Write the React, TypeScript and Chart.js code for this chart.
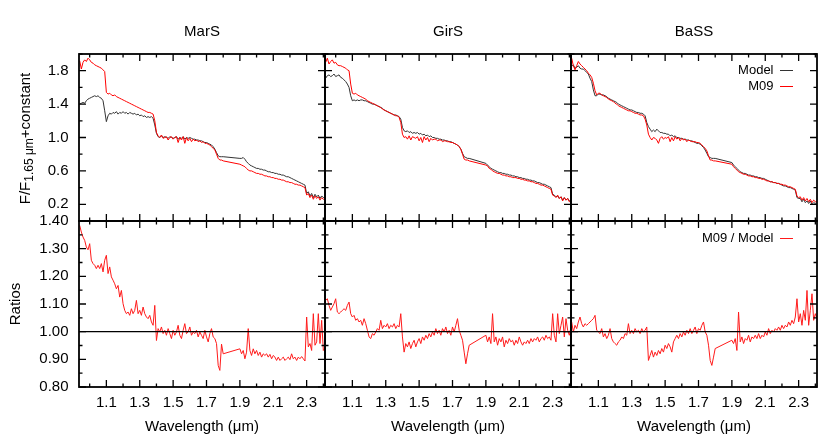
import React, { useEffect, useRef } from "react";
import { Chart, registerables } from "chart.js";

Chart.register(...registerables);

// ---------------- data ----------------
const WAVELENGTH = [
  0.94, 0.95, 0.96, 0.97, 0.98, 0.99,
  1.0, 1.01, 1.02, 1.03, 1.04, 1.05, 1.06, 1.07, 1.08, 1.09,
  1.1, 1.11, 1.12, 1.13, 1.14, 1.15, 1.16, 1.17, 1.18, 1.19,
  1.2, 1.21, 1.22, 1.23, 1.24, 1.25, 1.26, 1.27, 1.28, 1.29,
  1.3, 1.31, 1.32, 1.33, 1.34, 1.35, 1.36, 1.37, 1.38, 1.39,
  1.4, 1.41, 1.42, 1.43, 1.44, 1.45, 1.46, 1.47, 1.48, 1.49,
  1.5, 1.51, 1.52, 1.53, 1.54, 1.55, 1.56, 1.57, 1.58, 1.59,
  1.6, 1.61, 1.62, 1.63, 1.64, 1.65, 1.66, 1.67, 1.68, 1.69,
  1.7, 1.71, 1.72, 1.73, 1.74, 1.75, 1.76, 1.77, 1.78, 1.79,
  1.8,
  1.9, 1.91, 1.92, 1.93, 1.94, 1.95, 1.96, 1.97, 1.98, 1.99,
  2.0, 2.01, 2.02, 2.03, 2.04, 2.05, 2.06, 2.07, 2.08, 2.09,
  2.1, 2.11, 2.12, 2.13, 2.14, 2.15, 2.16, 2.17, 2.18, 2.19,
  2.2, 2.21, 2.22, 2.23, 2.24, 2.25, 2.26, 2.27, 2.28, 2.29,
  2.3, 2.31, 2.32, 2.33, 2.34, 2.35, 2.36, 2.37, 2.38, 2.39,
  2.4, 2.41,
];

const MARS_MODEL = [
  1.40, 1.41, 1.42, 1.41, 1.44, 1.46,
  1.47, 1.48, 1.49, 1.50, 1.49, 1.50, 1.48, 1.47, 1.44, 1.32,
  1.19, 1.26, 1.29, 1.28, 1.30, 1.29, 1.31, 1.28, 1.30, 1.29,
  1.31, 1.29, 1.30, 1.28, 1.30, 1.29, 1.28, 1.29, 1.27, 1.28,
  1.26, 1.27, 1.25, 1.26, 1.24, 1.25, 1.24, 1.25, 1.23, 1.15,
  1.05, 1.01, 1.00, 1.02, 1.00, 1.01, 1.00, 0.99, 1.01, 1.00,
  0.99, 1.00, 1.01, 0.98, 1.00, 0.99, 1.01, 0.98, 1.00, 0.99,
  1.00, 0.99, 0.98, 0.98, 0.97, 0.97, 0.96, 0.96, 0.95, 0.94,
  0.94, 0.93, 0.92, 0.91, 0.89, 0.86, 0.82, 0.78, 0.77, 0.77,
  0.77,
  0.75, 0.75, 0.76, 0.74, 0.71, 0.69, 0.67, 0.66, 0.65, 0.64,
  0.63, 0.63, 0.62, 0.62, 0.61, 0.61, 0.60, 0.59, 0.59, 0.58,
  0.58, 0.57, 0.57, 0.56, 0.56, 0.55, 0.55, 0.54, 0.53, 0.53,
  0.52, 0.51, 0.50, 0.49, 0.48, 0.47, 0.46, 0.45, 0.44, 0.43,
  0.33, 0.35, 0.30, 0.33, 0.28, 0.32, 0.29, 0.31, 0.27, 0.30,
  0.28, 0.29,
];

const MARS_M09 = [
  1.92, 1.82, 1.90, 1.93, 1.91, 1.95,
  1.93, 1.90, 1.89, 1.87, 1.86, 1.85, 1.84, 1.83, 1.81, 1.79,
  1.54, 1.52, 1.53, 1.51, 1.50, 1.51, 1.49, 1.48, 1.47, 1.46,
  1.45, 1.44, 1.43, 1.42, 1.41, 1.40, 1.39, 1.38, 1.37, 1.36,
  1.35, 1.34, 1.33, 1.32, 1.31, 1.30, 1.30, 1.29, 1.28, 1.20,
  1.06, 1.02, 1.00, 1.03, 0.99, 1.00, 1.01, 0.97, 1.00, 1.01,
  0.98, 1.00, 1.01, 0.94, 1.00, 0.97, 1.01, 0.93, 1.00, 0.96,
  0.99, 0.95, 0.98, 0.96, 0.97, 0.95, 0.96, 0.94, 0.95, 0.93,
  0.93, 0.92, 0.91, 0.89, 0.87, 0.85, 0.80, 0.75, 0.73, 0.73,
  0.72,
  0.68, 0.67, 0.66, 0.65, 0.63, 0.61, 0.60, 0.60, 0.59, 0.58,
  0.57, 0.57, 0.56, 0.56, 0.55, 0.54, 0.54, 0.53, 0.53, 0.52,
  0.52, 0.51, 0.51, 0.50, 0.50, 0.49, 0.49, 0.48, 0.47, 0.47,
  0.46, 0.46, 0.45, 0.44, 0.44, 0.43, 0.43, 0.42, 0.41, 0.40,
  0.31, 0.33, 0.28, 0.31, 0.26, 0.30, 0.27, 0.29, 0.25, 0.28,
  0.26, 0.27,
];

const GIRS_MODEL = [
  1.71, 1.74, 1.75, 1.73, 1.74, 1.76,
  1.73, 1.74, 1.75, 1.72, 1.71, 1.69, 1.67, 1.64, 1.60, 1.50,
  1.44, 1.45, 1.44, 1.45, 1.44, 1.45, 1.45, 1.44, 1.44, 1.43,
  1.42, 1.41, 1.40, 1.40, 1.39, 1.38, 1.37, 1.36, 1.35, 1.33,
  1.32, 1.31, 1.30, 1.29, 1.28, 1.27, 1.27, 1.26, 1.25, 1.22,
  1.12, 1.08, 1.07, 1.08, 1.06, 1.07, 1.05, 1.06, 1.05, 1.06,
  1.04, 1.05, 1.03, 1.04, 1.02, 1.03, 1.01, 1.02, 1.00, 1.00,
  0.99, 0.99, 0.98, 0.98, 0.97, 0.97, 0.96, 0.96, 0.95, 0.95,
  0.94, 0.93, 0.92, 0.91, 0.89, 0.86, 0.81, 0.77, 0.76, 0.75,
  0.75,
  0.69, 0.67, 0.65, 0.63, 0.62, 0.61, 0.60, 0.59, 0.58, 0.58,
  0.57, 0.57, 0.56, 0.56, 0.55, 0.55, 0.54, 0.54, 0.53, 0.53,
  0.52, 0.52, 0.51, 0.51, 0.50, 0.50, 0.49, 0.49, 0.48, 0.48,
  0.47, 0.46, 0.46, 0.45, 0.44, 0.44, 0.43, 0.42, 0.41, 0.40,
  0.32, 0.31, 0.29, 0.30, 0.27, 0.29, 0.25, 0.28, 0.25, 0.27,
  0.24, 0.25,
];

const GIRS_M09 = [
  1.90, 1.95, 1.88, 1.91, 1.93, 1.89,
  1.90, 1.87, 1.86, 1.86, 1.85, 1.84, 1.83, 1.81, 1.80, 1.64,
  1.53, 1.52, 1.53, 1.51, 1.50, 1.49, 1.48, 1.47, 1.46, 1.44,
  1.43, 1.42, 1.41, 1.40, 1.39, 1.38, 1.37, 1.36, 1.34, 1.33,
  1.32, 1.31, 1.30, 1.29, 1.28, 1.27, 1.26, 1.26, 1.24, 1.18,
  1.04, 1.00, 1.01, 0.98, 1.02, 0.97, 1.01, 1.00, 0.99, 1.01,
  0.96, 1.00, 0.94, 1.01, 0.97, 1.00, 0.95, 0.99, 0.97, 0.98,
  0.98, 0.96, 0.97, 0.97, 0.95, 0.96, 0.96, 0.95, 0.95, 0.94,
  0.94, 0.93, 0.92, 0.91, 0.89, 0.86, 0.80, 0.74, 0.73, 0.73,
  0.72,
  0.67, 0.66, 0.63, 0.62, 0.60, 0.59, 0.58, 0.57, 0.57, 0.56,
  0.55, 0.55, 0.54, 0.54, 0.53, 0.53, 0.52, 0.52, 0.52, 0.51,
  0.51, 0.50, 0.50, 0.49, 0.49, 0.48, 0.48, 0.47, 0.47, 0.46,
  0.45, 0.45, 0.44, 0.43, 0.43, 0.42, 0.41, 0.40, 0.39, 0.38,
  0.31, 0.30, 0.28, 0.31, 0.27, 0.29, 0.24, 0.28, 0.25, 0.27,
  0.23, 0.25,
];

const BASS_MODEL = [
  1.85, 1.87, 1.83, 1.84, 1.86, 1.83,
  1.82, 1.82, 1.80, 1.78, 1.76, 1.71, 1.67, 1.57, 1.50, 1.50,
  1.52, 1.52, 1.51, 1.51, 1.50, 1.49, 1.47, 1.46, 1.45, 1.44,
  1.43, 1.42, 1.40, 1.39, 1.38, 1.37, 1.36, 1.35, 1.34, 1.33,
  1.33, 1.32, 1.31, 1.30, 1.30, 1.29, 1.29, 1.28, 1.26, 1.18,
  1.13, 1.10, 1.07, 1.09, 1.07, 1.10, 1.08, 1.06, 1.06, 1.05,
  1.05, 1.04, 1.04, 1.02, 1.03, 1.01, 1.02, 1.00, 1.00, 0.99,
  0.99, 0.98, 0.98, 0.97, 0.97, 0.96, 0.96, 0.95, 0.94, 0.93,
  0.93, 0.92, 0.90, 0.88, 0.85, 0.81, 0.77, 0.76, 0.75, 0.75,
  0.75,
  0.70, 0.67, 0.65, 0.63, 0.61, 0.59, 0.58, 0.57, 0.57, 0.56,
  0.55, 0.55, 0.54, 0.54, 0.53, 0.53, 0.52, 0.52, 0.51, 0.51,
  0.50, 0.49, 0.48, 0.47, 0.47, 0.46, 0.46, 0.45, 0.45, 0.44,
  0.43, 0.42, 0.42, 0.41, 0.40, 0.40, 0.39, 0.38, 0.37, 0.28,
  0.27, 0.27, 0.23, 0.26, 0.22, 0.24, 0.21, 0.24, 0.20, 0.22,
  0.21, 0.22,
];

const BASS_M09 = [
  1.95, 1.86, 1.81, 1.86, 1.91, 1.88,
  1.86, 1.84, 1.82, 1.80, 1.77, 1.75, 1.72, 1.65, 1.56, 1.51,
  1.53, 1.53, 1.51, 1.50, 1.49, 1.48, 1.46, 1.45, 1.44, 1.43,
  1.41, 1.40, 1.38, 1.37, 1.36, 1.35, 1.34, 1.33, 1.32, 1.32,
  1.31, 1.30, 1.29, 1.29, 1.28, 1.27, 1.27, 1.26, 1.22, 1.15,
  1.04, 1.00, 0.97, 1.00, 0.99, 0.97, 0.93, 0.99, 1.01, 0.98,
  1.00, 0.99, 1.01, 0.95, 1.00, 0.96, 1.01, 0.98, 1.00, 0.96,
  0.99, 0.97, 0.98, 0.95, 0.97, 0.96, 0.95, 0.95, 0.95, 0.94,
  0.94, 0.93, 0.91, 0.89, 0.87, 0.84, 0.78, 0.73, 0.73, 0.72,
  0.72,
  0.68, 0.65, 0.63, 0.61, 0.59, 0.58, 0.57, 0.56, 0.56, 0.55,
  0.54, 0.54, 0.53, 0.53, 0.52, 0.52, 0.51, 0.51, 0.50, 0.50,
  0.49, 0.48, 0.48, 0.47, 0.47, 0.46, 0.46, 0.45, 0.45, 0.44,
  0.44, 0.43, 0.43, 0.42, 0.41, 0.41, 0.40, 0.39, 0.38, 0.30,
  0.28, 0.29, 0.25, 0.28, 0.24, 0.27, 0.23, 0.26, 0.22, 0.25,
  0.23, 0.24,
];

const MARS_RATIO = [
  1.384, 1.360, 1.342, 1.330, 1.306, 1.296,
  1.318, 1.258, 1.246, 1.240, 1.228, 1.240, 1.228, 1.246, 1.216, 1.258,
  1.276, 1.210, 1.234, 1.198, 1.186, 1.173, 1.155, 1.167, 1.125, 1.149,
  1.101, 1.077, 1.065, 1.071, 1.059, 1.083, 1.065, 1.077, 1.113, 1.065,
  1.077, 1.059, 1.089, 1.065, 1.053, 1.047, 1.059, 1.035, 1.023, 1.095,
  0.968, 1.011, 0.999, 1.017, 0.993, 1.005, 0.987, 1.011, 0.993, 0.975,
  1.005, 0.987, 0.999, 1.023, 0.987, 0.975, 1.005, 1.029, 0.993, 0.999,
  1.017, 0.987, 0.999, 0.993, 1.005, 0.981, 0.999, 0.987, 0.975, 1.005,
  0.981, 0.963, 0.993, 1.011, 0.981, 0.975, 0.957, 0.878, 0.860, 0.955,
  0.920,
  0.938, 0.920, 0.932, 0.902, 0.926, 1.011, 0.932, 0.914, 0.938, 0.920,
  0.932, 0.914, 0.926, 0.908, 0.920, 0.914, 0.920, 0.908, 0.918, 0.902,
  0.914, 0.908, 0.896, 0.908, 0.896, 0.902, 0.908, 0.896, 0.902, 0.908,
  0.899, 0.920, 0.902, 0.908, 0.896, 0.908, 0.902, 0.910, 0.902, 0.894,
  1.053, 0.945, 0.957, 0.932, 1.065, 0.951, 0.963, 1.065, 0.957, 1.041,
  0.932, 0.940,
];

const GIRS_RATIO = [
  1.113, 1.119, 1.095, 1.077, 1.089, 1.101,
  1.119, 1.071, 1.065, 1.071, 1.077, 1.083, 1.077, 1.095, 1.107, 1.065,
  1.053, 1.059, 1.041, 1.047, 1.035, 1.041, 1.023, 1.047, 1.029, 1.005,
  0.981, 0.975, 0.993, 0.987, 0.999, 1.011, 1.005, 1.041, 1.011, 1.023,
  1.017, 1.029, 1.011, 1.023, 1.017, 1.029, 1.011, 1.023, 1.017, 1.065,
  0.981, 0.926, 0.957, 0.945, 0.963, 0.939, 0.957, 0.969, 0.945, 0.963,
  0.975, 0.957, 0.981, 0.969, 0.987, 0.975, 0.993, 0.981, 0.999, 0.987,
  1.011, 0.993, 1.005, 0.987, 1.011, 0.999, 1.017, 0.993, 1.005, 0.987,
  1.017, 0.999, 1.023, 1.047, 1.005, 0.987, 0.969, 0.926, 0.884, 0.920,
  0.951,
  0.987, 0.963, 0.981, 0.957, 1.065, 0.963, 0.981, 0.951, 0.975, 0.963,
  0.981, 0.945, 0.969, 0.957, 0.975, 0.963, 0.969, 0.951, 0.969, 0.957,
  0.981, 0.963, 0.951, 0.963, 0.957, 0.969, 0.957, 0.975, 0.963, 0.975,
  0.969, 0.981, 0.963, 0.975, 0.981, 0.969, 0.987, 0.975, 0.981, 0.969,
  1.065, 0.987, 0.963, 1.065, 0.993, 1.023, 1.053, 0.981, 1.047, 1.005,
  0.987, 1.017,
];

const BASS_RATIO = [
  1.035, 0.999, 1.023, 1.011, 1.035, 1.053,
  1.029, 1.017, 1.029, 1.023, 1.029, 1.035, 1.041, 1.047, 1.059, 1.005,
  0.999, 0.993, 1.011, 0.981, 0.993, 0.975, 0.987, 1.011, 0.975, 0.963,
  0.957, 0.951, 0.963, 0.969, 0.981, 0.975, 0.993, 0.987, 1.029, 0.993,
  1.005, 0.993, 1.011, 0.999, 1.005, 0.993, 1.011, 0.999, 1.005, 1.017,
  0.896, 0.914, 0.932, 0.908, 0.926, 0.914, 0.932, 0.920, 0.939, 0.926,
  0.951, 0.939, 0.957, 0.945, 0.926, 0.963, 0.975, 0.987, 0.975, 0.993,
  0.981, 0.999, 0.987, 1.005, 0.993, 1.011, 0.993, 1.005, 1.017, 0.993,
  1.011, 1.005, 1.023, 1.035, 0.999, 0.987, 0.951, 0.896, 0.878, 0.908,
  0.939,
  0.969, 0.957, 0.975, 0.932, 1.071, 0.963, 0.981, 0.957, 0.975, 0.969,
  0.987, 0.963, 0.981, 0.975, 0.987, 0.975, 0.993, 0.975, 0.987, 0.981,
  0.999, 0.987, 1.011, 0.993, 1.005, 0.999, 1.011, 1.005, 1.017, 1.005,
  1.023, 1.011, 1.023, 1.017, 1.035, 1.023, 1.041, 1.029, 1.053, 1.119,
  1.035, 1.065, 1.023, 1.077, 1.041, 1.149, 1.023, 1.077, 1.137, 1.041,
  1.065, 1.047,
];

const STAR_NAMES = ["MarS", "GirS", "BaSS"];
const MODEL_SERIES = [MARS_MODEL, GIRS_MODEL, BASS_MODEL];
const M09_SERIES = [MARS_M09, GIRS_M09, BASS_M09];
const RATIO_SERIES = [MARS_RATIO, GIRS_RATIO, BASS_RATIO];

const X_TICKS = [1.0, 1.1, 1.2, 1.3, 1.4, 1.5, 1.6, 1.7, 1.8, 1.9, 2.0, 2.1, 2.2, 2.3, 2.4];
const X_LABELED = [1.1, 1.3, 1.5, 1.7, 1.9, 2.1, 2.3];
const FLUX_TICKS = [0, 0.2, 0.4, 0.6, 0.8, 1.0, 1.2, 1.4, 1.6, 1.8, 2.0];
const FLUX_LABELED = [0.2, 0.6, 1.0, 1.4, 1.8];
const RATIO_TICKS = [0.8, 0.85, 0.9, 0.95, 1.0, 1.05, 1.1, 1.15, 1.2, 1.25, 1.3, 1.35, 1.4];
const RATIO_LABELED = [0.8, 0.9, 1.0, 1.1, 1.2, 1.3, 1.4];

const X_MIN = 0.936;
const X_MAX = 2.41;
const FLUX_MIN = 0;
const FLUX_MAX = 2.0;
const RATIO_MIN = 0.8;
const RATIO_MAX = 1.4;
const RATIO_REFERENCE = 1.0;

// ---------------- styling / layout ----------------
const FONT = "'Liberation Sans', Arial, Helvetica, sans-serif";
const MODEL_COLOR = "#333333";
const M09_COLOR = "#ff0000";
const RATIO_COLOR = "#ff1a1a";

const COL_LEFT = [79, 325, 571];
const PANEL_W = 246;
const ROW_TOP = [54, 221];
const ROW_H = [167, 166];
const PAD = 5;
const ROW1_TOP_MARGIN = 14;
const MAJOR_TICK = 7;
const MINOR_TICK = 3.5;

Chart.defaults.font.family = FONT;
Chart.defaults.color = "#000";

const near = (v: number, list: number[]) => list.some((t) => Math.abs(t - v) < 1e-6);

function Panel({ row, col }: { row: number; col: number }) {
  const ref = useRef<HTMLCanvasElement | null>(null);
  const mL = col === 0 ? 79 : PAD;
  const mR = PAD;
  const mT = row === 0 ? 54 : ROW1_TOP_MARGIN;
  const mB = row === 1 ? 56 : PAD;
  const w = PANEL_W + mL + mR;
  const h = ROW_H[row] + mT + mB;
  const left = COL_LEFT[col] - mL;
  const top = ROW_TOP[row] - mT;

  useEffect(() => {
    const isTop = row === 0;
    const yTicks = isTop ? FLUX_TICKS : RATIO_TICKS;
    const yLabeled = isTop ? FLUX_LABELED : RATIO_LABELED;

    const datasets = isTop
      ? [
          {
            label: "Model",
            data: WAVELENGTH.map((x, i) => ({ x, y: MODEL_SERIES[col][i] })),
            borderColor: MODEL_COLOR,
            backgroundColor: MODEL_COLOR,
            borderWidth: 1,
            pointRadius: 0,
            order: 1,
          },
          {
            label: "M09",
            data: WAVELENGTH.map((x, i) => ({ x, y: M09_SERIES[col][i] })),
            borderColor: M09_COLOR,
            backgroundColor: M09_COLOR,
            borderWidth: 1,
            pointRadius: 0,
            order: 0,
          },
        ]
      : [
          {
            label: "M09 / Model",
            data: WAVELENGTH.map((x, i) => ({ x, y: RATIO_SERIES[col][i] })),
            borderColor: RATIO_COLOR,
            backgroundColor: RATIO_COLOR,
            borderWidth: 1,
            pointRadius: 0,
          },
        ];

    const showLegend = col === 2;
    const legendTopOffset = isTop ? 7 : 8;

    const framePlugin = {
      id: "frameTicks",
      afterLayout(chart: any) {
        const lg = chart.legend;
        if (!lg || !showLegend) return;
        const a = chart.chartArea;
        lg.left = a.left;
        lg.width = a.right - a.left - 21;
        lg.right = lg.left + lg.width;
        const hgt = lg.height;
        lg.top = a.top + legendTopOffset;
        lg.bottom = lg.top + hgt;
      },
      afterDatasetsDraw(chart: any) {
        const { ctx, chartArea: a, scales } = chart;
        const xs = scales.x;
        const ys = scales.y;
        ctx.save();
        ctx.strokeStyle = "#000";
        if (!isTop) {
          const py = ys.getPixelForValue(RATIO_REFERENCE);
          ctx.lineWidth = 1.3;
          ctx.beginPath();
          ctx.moveTo(a.left, py);
          ctx.lineTo(a.right, py);
          ctx.stroke();
        }
        ctx.lineWidth = 1.3;
        ctx.beginPath();
        for (const t of xs.ticks) {
          const px = xs.getPixelForValue(t.value);
          const len = near(t.value, X_LABELED) ? MAJOR_TICK : MINOR_TICK;
          ctx.moveTo(px, a.bottom);
          ctx.lineTo(px, a.bottom - len);
          ctx.moveTo(px, a.top);
          ctx.lineTo(px, a.top + len);
        }
        for (const t of ys.ticks) {
          const py = ys.getPixelForValue(t.value);
          const len = near(t.value, yLabeled) ? MAJOR_TICK : MINOR_TICK;
          ctx.moveTo(a.left, py);
          ctx.lineTo(a.left + len, py);
          ctx.moveTo(a.right, py);
          ctx.lineTo(a.right - len, py);
        }
        ctx.stroke();
        ctx.lineWidth = 1.8;
        ctx.strokeRect(a.left, a.top, a.right - a.left, a.bottom - a.top);
        ctx.restore();
      },
      afterDraw(chart: any) {
        if (!(isTop && col === 0)) return;
        const { ctx, chartArea: a } = chart;
        const big = `15px ${FONT}`;
        const small = `12px ${FONT}`;
        const parts = [
          { t: "F/F", f: big, dy: 0 },
          { t: "1.65 μm", f: small, dy: 3.5 },
          { t: "+constant", f: big, dy: 0 },
        ];
        ctx.save();
        let total = 0;
        const widths = parts.map((p) => {
          ctx.font = p.f;
          const wd = ctx.measureText(p.t).width;
          total += wd;
          return wd;
        });
        ctx.translate(29.5, (a.top + a.bottom) / 2 + 1);
        ctx.rotate(-Math.PI / 2);
        ctx.fillStyle = "#000";
        ctx.textBaseline = "alphabetic";
        ctx.textAlign = "left";
        let x = -total / 2;
        parts.forEach((p, i) => {
          ctx.font = p.f;
          ctx.fillText(p.t, x, p.dy);
          x += widths[i];
        });
        ctx.restore();
      },
    };

    const chart = new Chart(ref.current as HTMLCanvasElement, {
      type: "line",
      data: { datasets } as any,
      options: {
        responsive: false,
        animation: false,
        devicePixelRatio: 1,
        layout: {
          autoPadding: false,
          padding: {
            left: col === 0 ? 0 : PAD,
            right: PAD,
            top: row === 0 ? 0 : ROW1_TOP_MARGIN,
            bottom: row === 1 ? 0 : PAD,
          },
        },
        scales: {
          x: {
            type: "linear",
            position: "bottom",
            min: X_MIN,
            max: X_MAX,
            bounds: "data",
            afterBuildTicks: (s: any) => {
              s.ticks = X_TICKS.map((v) => ({ value: v }));
            },
            afterFit: (s: any) => {
              s.height = row === 1 ? 56 : 0;
              s.paddingLeft = 0;
              s.paddingRight = 0;
              s.paddingTop = 0;
              s.paddingBottom = 0;
            },
            grid: { display: false, drawTicks: false },
            border: { display: false },
            ticks: {
              display: row === 1,
              autoSkip: false,
              maxRotation: 0,
              minRotation: 0,
              padding: 7,
              font: { size: 15 },
              color: "#000",
              callback: (v: any) => (near(Number(v), X_LABELED) ? Number(v).toFixed(1) : ""),
            },
            title: {
              display: row === 1,
              text: "Wavelength (μm)",
              font: { size: 15 },
              color: "#000",
              padding: { top: 0, bottom: 7 },
            },
          },
          y: {
            type: "linear",
            position: "left",
            min: isTop ? FLUX_MIN : RATIO_MIN,
            max: isTop ? FLUX_MAX : RATIO_MAX,
            bounds: "data",
            afterBuildTicks: (s: any) => {
              s.ticks = yTicks.map((v) => ({ value: v }));
            },
            afterFit: (s: any) => {
              s.width = col === 0 ? 79 : 0;
              s.paddingLeft = 0;
              s.paddingRight = 0;
              s.paddingTop = 0;
              s.paddingBottom = 0;
            },
            grid: { display: false, drawTicks: false },
            border: { display: false },
            ticks: {
              display: col === 0,
              autoSkip: false,
              padding: 10.5,
              font: { size: 15 },
              color: "#000",
              callback: (v: any) =>
                near(Number(v), yLabeled) ? Number(v).toFixed(isTop ? 1 : 2) : "",
            },
            title: {
              display: col === 0 && !isTop,
              text: "Ratios",
              font: { size: 15 },
              color: "#000",
              padding: { top: 7, bottom: 0 },
            },
          },
        },
        plugins: {
          tooltip: { enabled: false },
          title: {
            display: isTop,
            text: STAR_NAMES[col],
            fullSize: false,
            font: { size: 15, weight: "normal" },
            color: "#000",
            padding: { top: 23, bottom: 13 },
          },
          legend: {
            display: showLegend,
            position: "chartArea",
            align: "start",
            rtl: true,
            labels: {
              font: { size: 13 },
              color: "#000",
              usePointStyle: true,
              pointStyle: "line",
              pointStyleWidth: 13,
              boxHeight: 13,
              padding: 3,
              sort: (a: any, b: any) => a.datasetIndex - b.datasetIndex,
            },
          },
        },
      } as any,
      plugins: [framePlugin],
    });
    return () => chart.destroy();
  }, [row, col]);

  return (
    <canvas
      ref={ref}
      width={w}
      height={h}
      style={{ position: "absolute", left, top, width: w, height: h }}
    />
  );
}

export default function App() {
  const panels = [];
  for (let r = 0; r < 2; r++) {
    for (let c = 0; c < 3; c++) {
      panels.push(<Panel key={`${r}-${c}`} row={r} col={c} />);
    }
  }
  return (
    <div
      style={{
        position: "absolute",
        left: 0,
        top: 0,
        width: 830,
        height: 443,
        background: "#fff",
        overflow: "hidden",
      }}
    >
      {panels}
    </div>
  );
}
